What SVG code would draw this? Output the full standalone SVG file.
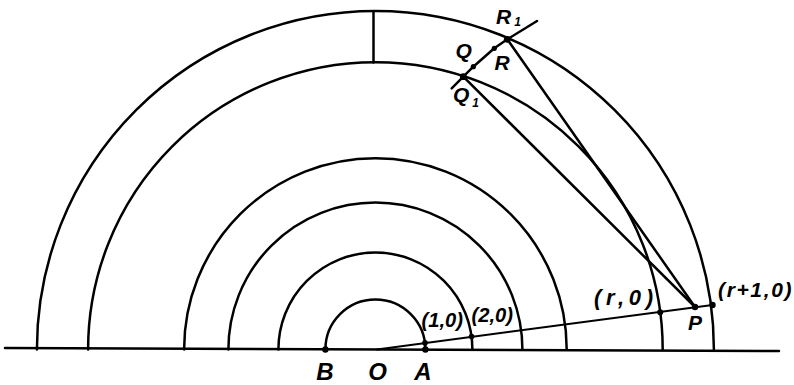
<svg xmlns="http://www.w3.org/2000/svg" width="794" height="385" viewBox="0 0 794 385">
<style>
.ln{fill:none;stroke:#000;stroke-width:2.5;stroke-linecap:round;stroke-linejoin:round}
.thin{fill:none;stroke:#000;stroke-width:2;stroke-linecap:round;stroke-linejoin:round}
.dot{fill:#000}
.t{font-family:"Liberation Sans",Arial,sans-serif;font-style:italic;font-weight:bold;fill:#000}
.big{font-size:24px}
.mid{font-size:21px}
.lg{font-size:22px}
.sm{font-size:20px}
.sub{font-size:12px}
</style>
<rect width="794" height="385" fill="#fff"/>
<g id="connectors">
  <line class="ln" x1="5" y1="348" x2="779" y2="351"/>
  <path class="ln" d="M325.4,349.5 A50,50 0 0 1 425.4,349.5"/>
  <path class="ln" d="M278.4,349.5 A97,97 0 0 1 472.4,349.5"/>
  <path class="ln" d="M228.4,349.5 A147,147 0 0 1 522.4,349.5"/>
  <path class="ln" d="M184.1,349.5 A191.3,191.3 0 0 1 566.7,349.5"/>
  <path class="ln" d="M88.1,349.5 A287.3,287.3 0 0 1 662.7,349.5"/>
  <path class="ln" d="M36.9,349.5 A338.5,338.5 0 0 1 713.9,349.5"/>
  <line class="ln" x1="373.5" y1="11.5" x2="373.5" y2="62.5"/>
  <line class="thin" x1="377" y1="349.4" x2="712.5" y2="305"/>
  <polyline class="ln" points="451.7,88.3 463.3,76.7 473.3,66.7 494.3,48.3 507.3,39.3 537,21"/>
  <line class="ln" x1="463.3" y1="76.7" x2="695" y2="307"/>
  <line class="ln" x1="507.3" y1="39.3" x2="695" y2="307"/>
</g>
<g id="B"><circle class="dot" cx="325.4" cy="349.5" r="3.2"/><text class="t big" x="325" y="380" text-anchor="middle">B</text></g>
<g id="O"><text class="t big" x="377.5" y="380" text-anchor="middle">O</text></g>
<g id="A"><circle class="dot" cx="425.4" cy="349.5" r="3.2"/><text class="t big" x="423" y="380" text-anchor="middle">A</text></g>
<g id="p10"><circle class="dot" cx="425" cy="342.9" r="2.8"/><text class="t sm" x="421.5" y="327" textLength="41.5" lengthAdjust="spacingAndGlyphs">(1,0)</text></g>
<g id="p20"><circle class="dot" cx="471.6" cy="336.6" r="2.8"/><text class="t sm" x="471.5" y="321.5" textLength="41.5" lengthAdjust="spacingAndGlyphs">(2,0)</text></g>
<g id="pr0"><circle class="dot" cx="660.2" cy="312.2" r="3"/><text class="t lg" x="594" y="305" textLength="59" lengthAdjust="spacing">(r,0)</text></g>
<g id="P"><circle class="dot" cx="695" cy="307" r="3.2"/><text class="t mid" x="688" y="330">P</text></g>
<g id="pr10"><circle class="dot" cx="712.5" cy="305" r="3.2"/><text class="t mid" x="718" y="297" textLength="73.5" lengthAdjust="spacing">(r+1,0)</text></g>
<g id="Q1"><circle class="dot" cx="463.3" cy="76.7" r="3.4"/><text class="t mid" x="453" y="102">Q<tspan class="sub" dx="3" dy="5">1</tspan></text></g>
<g id="Q"><circle class="dot" cx="473.3" cy="66.7" r="2.6"/><text class="t mid" x="455.5" y="58">Q</text></g>
<g id="R"><circle class="dot" cx="494.3" cy="48.3" r="2.6"/><text class="t mid" x="494.5" y="70">R</text></g>
<g id="R1"><circle class="dot" cx="507.3" cy="39.3" r="3.4"/><text class="t mid" x="496" y="23.5">R<tspan class="sub" dx="3" dy="2">1</tspan></text></g>
</svg>
